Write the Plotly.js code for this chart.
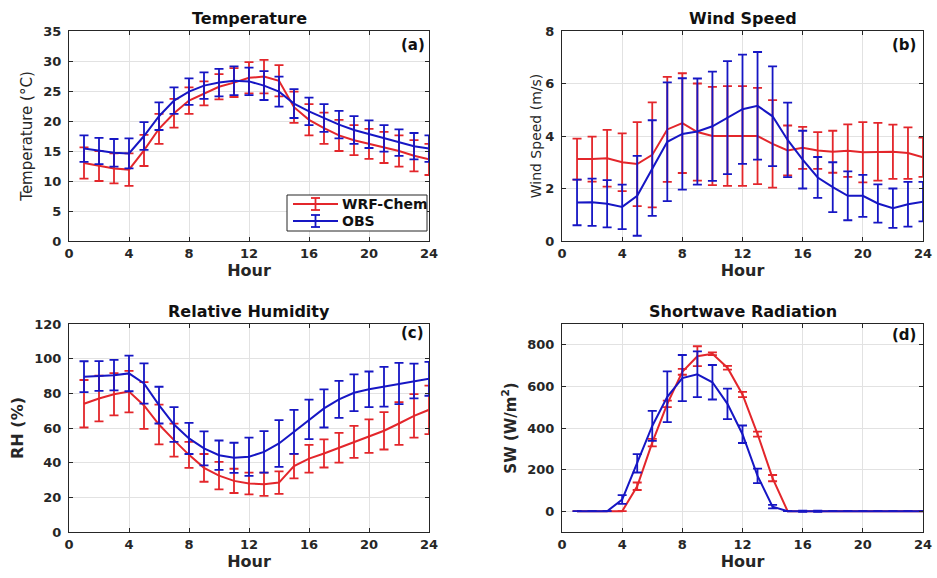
<!DOCTYPE html>
<html>
<head>
<meta charset="utf-8">
<script src="https://cdn.plot.ly/plotly-3.0.1.min.js"></script>
<style>html,body{margin:0;padding:0;background:#fff;}#chart{width:937px;height:578px;}</style>
</head>
<body>
<div id="chart"></div>
<script>
// ---- data ----
const hours = [1,2,3,4,5,6,7,8,9,10,11,12,13,14,15,16,17,18,19,20,21,22,23,24];

const tempWRF    = [13.0,12.5,12.1,11.9,15.1,18.7,21.3,23.4,24.6,25.7,26.4,27.2,27.4,26.7,22.3,20.2,18.8,17.6,16.8,16.2,15.6,15.0,14.2,13.6];
const tempWRFerr = [2.6,2.5,2.5,2.7,2.6,2.5,2.4,2.2,2.0,2.1,2.4,2.6,2.8,2.6,2.6,2.6,2.6,2.6,2.5,2.5,2.6,2.6,2.6,2.6];
const tempOBS    = [15.4,15.0,14.7,14.6,17.5,20.8,23.4,24.9,25.9,26.4,26.7,26.6,25.9,24.9,22.9,21.6,20.5,19.4,18.5,17.8,17.1,16.4,15.8,15.4];
const tempOBSerr = [2.2,2.2,2.3,2.5,2.3,2.3,2.2,2.2,2.2,2.3,2.4,2.3,2.4,2.5,2.4,2.3,2.3,2.3,2.3,2.3,2.2,2.2,2.2,2.2];

const windWRF    = [3.12,3.12,3.15,3.0,2.93,3.28,4.25,4.49,4.15,4.0,4.0,4.0,4.0,3.7,3.45,3.55,3.45,3.4,3.44,3.38,3.4,3.4,3.35,3.19];
const windWRFerr = [0.78,0.86,1.08,1.1,1.6,2.0,2.0,1.9,1.85,1.87,1.9,1.9,1.83,1.67,0.95,0.8,0.7,0.8,1.0,1.15,1.1,1.03,0.98,0.75];
const windOBS    = [1.47,1.48,1.42,1.3,1.72,2.78,3.78,4.08,4.17,4.37,4.7,5.02,5.15,4.75,3.85,3.1,2.42,2.05,1.72,1.72,1.43,1.25,1.4,1.5];
const windOBSerr = [0.87,0.9,0.9,0.85,1.52,1.82,2.26,2.12,2.02,2.08,2.15,2.08,2.05,1.9,1.42,1.1,0.78,0.95,0.93,0.8,0.73,0.75,0.85,0.75];

const rhWRF    = [74,77,79.5,81,73,62,53,44.5,37,32.5,29.5,28,27.5,28.5,38,42.3,45.3,48.6,52,55.3,58.4,62.6,67,70.5];
const rhWRFerr = [13.7,13.2,12.2,12,13.5,11.5,9.5,7.5,8,7.9,7,6.3,6.7,6.5,7.1,8,8.1,8.6,9.2,9.7,10.8,12.3,12.5,14];
const rhOBS    = [89.6,90,90.5,91.5,85.7,73.2,62,54,48.2,44.3,42.8,43.4,46.2,51.1,57.8,65,71.3,76.5,80.3,82.3,83.8,85.7,87.1,88.4];
const rhOBSerr = [8.9,8.6,8.8,10.3,11.6,10.6,10,9,9.8,8.5,8.7,11,12,13.5,12.7,11.4,11,10.7,10.6,10.3,11.5,11.9,10,9.8];

const swWRF    = [0,0,0,0,120,330,516,670,745,757,690,561,371,159,0,0,0,0,0,0,0,0,0,0];
const swWRFerr = [0,0,0,0,18,18,16,14,48,7,9,13,12,15,0,0,0,0,0,0,0,0,0,0];
const swOBS    = [0,0,0,56,230,410,550,640,658,620,516,370,170,22,0,0,0,0,0,0,0,0,0,0];
const swOBSerr = [0,0,0,21,44,72,122,111,110,83,73,42,35,8,0,3,3,0,0,0,0,0,0,0];

const hourTicks = [0,4,8,12,16,20,24];
const seriesNames = ['WRF-Chem','OBS'];
const panelTitles = ['Temperature','Wind Speed','Relative Humidity','Shortwave Radiation'];
const panelTags = ['(a)','(b)','(c)','(d)'];
const yTitles = ['Temperature (°C)','Wind Speed (m/s)','RH (%)','SW (W/m<sup>2</sup>)'];

// ---- styling ----
const W = 937, H = 578;
const RED = '#e3262b', BLUE = '#1616c4';
const FONT = 'DejaVu Sans, Liberation Sans, Arial, sans-serif';
const px = v => v / W;
const py = v => 1 - v / H;

const panels = [
  {wrf: tempWRF, wrfE: tempWRFerr, obs: tempOBS, obsE: tempOBSerr},
  {wrf: windWRF, wrfE: windWRFerr, obs: windOBS, obsE: windOBSerr},
  {wrf: rhWRF,   wrfE: rhWRFerr,   obs: rhOBS,   obsE: rhOBSerr},
  {wrf: swWRF,   wrfE: swWRFerr,   obs: swOBS,   obsE: swOBSerr}
];
const seriesColors = [RED, BLUE];

const traces = [];
panels.forEach((p, i) => {
  const ax = i === 0 ? '' : String(i + 1);
  [[p.wrf, p.wrfE], [p.obs, p.obsE]].forEach(([vals, errs], k) => {
    traces.push({
      type: 'scatter', mode: 'lines', x: hours, y: vals, name: seriesNames[k],
      xaxis: 'x' + ax, yaxis: 'y' + ax,
      showlegend: false,
      line: {color: seriesColors[k], width: 2},
      error_y: {type: 'data', array: errs, visible: true, color: seriesColors[k], thickness: 1.8, width: 4.5}
    });
  });
});

const xDom = [[px(69), px(429)], [px(562), px(923)]];
const yDom = [[py(241), py(31)], [py(532), py(324)]];

function xAxis(dom, anchor) {
  return {
    domain: dom, anchor: anchor, range: [0, 24], tickvals: hourTicks, ticktext: hourTicks.map(String),
    showline: true, linecolor: '#262626', linewidth: 1, mirror: 'ticks',
    ticks: 'inside', ticklen: 4, tickcolor: '#262626',
    showgrid: true, gridcolor: '#e2e2e2', gridwidth: 1, zeroline: false,
    tickfont: {family: FONT, size: 13, weight: 'bold', color: '#262626'},
    title: {text: 'Hour', font: {family: FONT, size: 16, weight: 'bold', color: '#262626'}, standoff: 4},
    automargin: false
  };
}
function yAxis(dom, anchor, range, ticks, title, bold, tsize, standoff) {
  return {
    domain: dom, anchor: anchor, range: range, tickvals: ticks, ticktext: ticks.map(String),
    showline: true, linecolor: '#262626', linewidth: 1, mirror: 'ticks',
    ticks: 'inside', ticklen: 4, tickcolor: '#262626',
    showgrid: true, gridcolor: '#e2e2e2', gridwidth: 1, zeroline: false,
    tickfont: {family: FONT, size: 13, weight: 'bold', color: '#262626'},
    ticklabelstandoff: 4,
    title: {text: title, font: {family: FONT, size: tsize, weight: bold ? 'bold' : 'normal', color: '#262626'}, standoff: standoff},
    automargin: false
  };
}

const annotations = [];
const shapes = [];
const titleCenters = [[(69+429)/2, 18], [(562+923)/2, 18], [(69+429)/2, 311], [(562+923)/2, 311]];
panelTitles.forEach((t, i) => {
  annotations.push({text: t, xref: 'paper', yref: 'paper', x: px(titleCenters[i][0]), y: py(titleCenters[i][1]),
    xanchor: 'center', yanchor: 'middle', showarrow: false,
    font: {family: FONT, size: 16, weight: 'bold', color: '#111'}});
});
const tagPos = [[413, 45], [904, 45], [412, 333], [904, 335]];
panelTags.forEach((t, i) => {
  annotations.push({text: t, xref: 'paper', yref: 'paper', x: px(tagPos[i][0]), y: py(tagPos[i][1]),
    xanchor: 'center', yanchor: 'middle', showarrow: false,
    font: {family: FONT, size: 15, weight: 'bold', color: '#111'}});
});

// ---- legend box (drawn like MATLAB's, with error-bar glyphs) ----
const leg = {x0: 287, x1: 427, y0: 195, y1: 231, rows: [204, 221], lx0: 293, lx1: 338, tx: 340};
shapes.push({type: 'rect', xref: 'paper', yref: 'paper', x0: px(leg.x0), x1: px(leg.x1), y0: py(leg.y1), y1: py(leg.y0),
  line: {color: '#262626', width: 1}, fillcolor: '#ffffff', layer: 'above'});
seriesNames.forEach((name, k) => {
  const ry = leg.rows[k], col = seriesColors[k], cx = (leg.lx0 + leg.lx1) / 2;
  const seg = (x0, y0, x1, y1, w) => shapes.push({type: 'line', xref: 'paper', yref: 'paper',
    x0: px(x0), y0: py(y0), x1: px(x1), y1: py(y1), line: {color: col, width: w}, layer: 'above'});
  seg(leg.lx0, ry, leg.lx1, ry, 2);
  seg(cx, ry - 6, cx, ry + 6, 1.8);
  seg(cx - 4.5, ry - 6, cx + 4.5, ry - 6, 1.8);
  seg(cx - 4.5, ry + 6, cx + 4.5, ry + 6, 1.8);
  annotations.push({text: name, xref: 'paper', yref: 'paper', x: px(leg.tx), y: py(ry),
    xanchor: 'left', yanchor: 'middle', showarrow: false,
    font: {family: FONT, size: 14, weight: 'bold', color: '#111'}});
});

const layout = {
  width: W, height: H,
  margin: {l: 0, r: 0, t: 0, b: 0},
  paper_bgcolor: '#fff', plot_bgcolor: '#fff',
  showlegend: false,
  xaxis:  xAxis(xDom[0], 'y'),
  yaxis:  yAxis(yDom[0], 'x',  [0, 35], [0,5,10,15,20,25,30,35], yTitles[0], false, 15, 7),
  xaxis2: xAxis(xDom[1], 'y2'),
  yaxis2: yAxis(yDom[0], 'x2', [0, 8], [0,2,4,6,8], yTitles[1], false, 14, 0),
  xaxis3: xAxis(xDom[0], 'y3'),
  yaxis3: yAxis(yDom[1], 'x3', [0, 120], [0,20,40,60,80,100,120], yTitles[2], true, 16, 6),
  xaxis4: xAxis(xDom[1], 'y4'),
  yaxis4: yAxis(yDom[1], 'x4', [-100, 900], [0,200,400,600,800], yTitles[3], true, 15, 7),
  annotations: annotations,
  shapes: shapes
};

Plotly.newPlot('chart', traces, layout, {displayModeBar: false, staticPlot: true});
</script>
</body>
</html>
